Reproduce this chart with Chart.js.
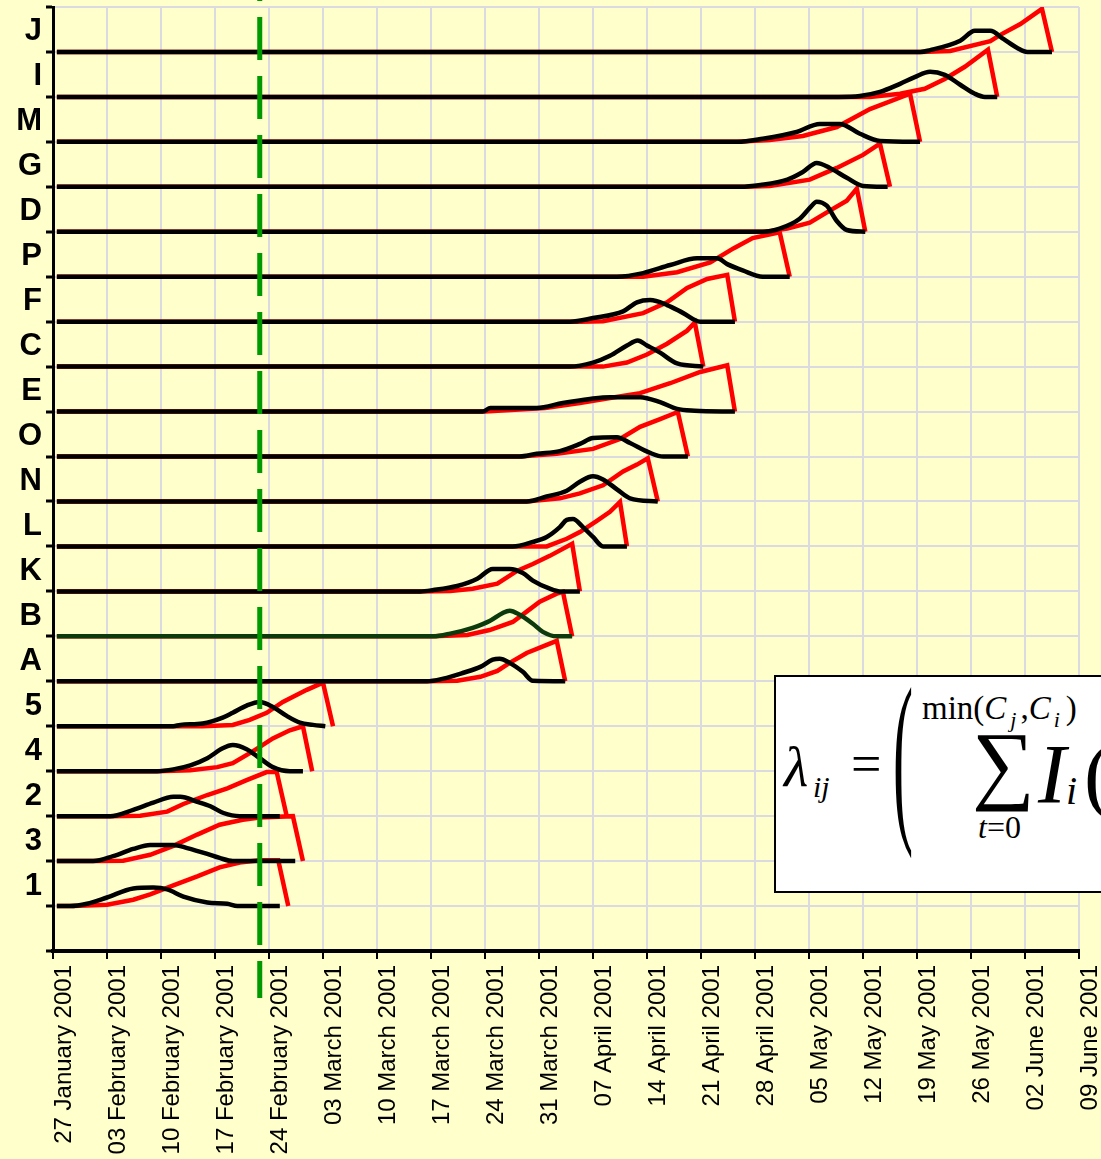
<!DOCTYPE html>
<html>
<head>
<meta charset="utf-8">
<script src="https://cdn.jsdelivr.net/npm/chart.js@4.4.1/dist/chart.umd.min.js"></script>
<style>
html, body { margin: 0; padding: 0; background: #ffffcc; overflow: hidden; }
#wrap { position: relative; width: 1101px; height: 1159px; overflow: hidden; background: #ffffcc; }
#chart { position: absolute; left: 0; top: 0; }
#formula { position: absolute; left: 774px; top: 675px; width: 360px; height: 214px;
  border: 2px solid #000; background: #fff; font-family: "Liberation Serif", "Times New Roman", serif; color: #000; }
#formula span { position: absolute; line-height: 1; white-space: nowrap; }
</style>
</head>
<body>
<div id="wrap">
<canvas id="chart" width="1101" height="1159"></canvas>
<div id="formula">
  <span style="left:8px; top:62px; font-size:56px; font-style:italic;">λ</span>
  <span style="left:37px; top:95px; font-size:30px; font-style:italic;">ij</span>
  <span style="left:75px; top:60px; font-size:54px;">=</span>
  <span style="left:117px; top:-16px; font-size:188px; transform:scaleX(0.32); transform-origin:0 0;">(</span>
  <span style="left:146px; top:15px; font-size:33px;">min(<i>C</i><i style="font-size:22px; position:relative; top:8px; margin-left:4px;">j</i><span style="position:static; margin-left:4px;">,</span><i>C</i><i style="font-size:22px; position:relative; top:8px; margin-left:3px;">i</i><span style="position:static; margin-left:6px;">)</span></span>
  <span style="left:196px; top:43px; font-size:88px;">∑</span>
  <span style="left:262px; top:56px; font-size:84px; font-style:italic;">I</span>
  <span style="left:290px; top:94px; font-size:40px; font-style:italic;">i</span>
  <span style="left:308px; top:56px; font-size:84px;">(</span>
  <span style="left:202px; top:134px; font-size:32px;"><i>t</i>=0</span>
</div>
</div>
<script>
// Row labels from bottom (row 1) to top (row 20)
const rowLabels = ['1', '3', '2', '4', '5', 'A', 'B', 'K', 'L', 'N', 'O', 'E', 'C', 'F', 'P', 'D', 'G', 'M', 'I', 'J'];

// Each curve: [days after 27 January 2001, height above the row's baseline]
// black = incidence curve, red = cumulative curve
const row_1_inc = [[0.5,0],[2.2,0],[4.4,0.05],[7,0.19],[10.4,0.39],[13,0.41],[14.8,0.37],[16.9,0.21],[20,0.08],[22.6,0.05],[23.9,0],[29.4,0]];
const row_1_cum = [[0.5,0],[2.6,0],[7,0.03],[10.4,0.14],[12.6,0.26],[15.6,0.46],[18.7,0.66],[21.6,0.86],[24.2,0.97],[26.8,1.02],[29.2,1.02],[30.5,0]];
const row_3_inc = [[0.5,0],[5.2,0],[7.8,0.11],[10.4,0.27],[12.6,0.36],[15.6,0.36],[17.4,0.29],[20,0.16],[21.6,0.07],[23.3,0],[31.4,0]];
const row_3_cum = [[0.5,0],[5.7,0],[9.1,0.01],[12.6,0.14],[15.6,0.34],[18.7,0.59],[21.6,0.81],[24.6,0.92],[26.8,0.97],[31.1,1.0],[32.4,0]];
const row_2_inc = [[0.5,0],[7.4,0],[10.4,0.14],[13,0.3],[15.6,0.43],[16.5,0.43],[18.7,0.32],[20.4,0.22],[22.1,0.07],[24.2,0],[29.4,0]];
const row_2_cum = [[0.5,0],[7.4,0],[11.3,0.01],[14.8,0.1],[16.9,0.27],[20,0.47],[22.6,0.62],[25.1,0.8],[27.7,0.98],[29,0.98],[30.3,0]];
const row_4_inc = [[0.5,0],[13.5,0],[15.6,0.04],[17.8,0.13],[20,0.29],[22,0.51],[23.3,0.58],[25.1,0.49],[26.8,0.29],[28.5,0.09],[30.7,0],[32.4,0]];
const row_4_cum = [[0.5,0],[13.5,0],[17.8,0.02],[21.3,0.09],[23.3,0.18],[25.9,0.44],[28.5,0.73],[30.7,0.91],[32.4,1],[33.6,0]];
const row_5_inc = [[0.5,0],[15.6,0],[16.5,0.03],[19.4,0.06],[22,0.19],[23.3,0.3],[25.1,0.46],[26.8,0.54],[28.5,0.43],[30.3,0.23],[32,0.08],[33.7,0.03],[35.3,0]];
const row_5_cum = [[0.5,0],[19.4,0],[23.3,0.03],[25.5,0.14],[27.7,0.3],[29.8,0.54],[32.9,0.81],[35,0.97],[36.3,0]];
const row_A_inc = [[0.5,0],[48.5,0],[50.6,0.06],[53.2,0.19],[55.4,0.32],[57,0.48],[57.9,0.5],[59.2,0.41],[60.9,0.21],[62.2,0.01],[66.4,0]];
const row_A_cum = [[0.5,0],[48.5,0],[52.4,0.01],[55.4,0.1],[57.6,0.23],[59.2,0.41],[61.4,0.63],[64,0.81],[65.3,0.9],[66.4,0]];
const row_B_inc = [[0.5,0],[49.3,0],[51.5,0.06],[54.4,0.19],[56.6,0.34],[58.3,0.52],[59.2,0.57],[60.5,0.48],[62.2,0.28],[63.5,0.1],[65.3,0],[67.3,0]];
const row_B_cum = [[0.5,0],[49.3,0],[53.7,0.03],[56.6,0.14],[59.6,0.32],[61.4,0.55],[63.1,0.77],[65.3,0.95],[66.1,0.99],[67.3,0]];
const row_K_inc = [[0.5,0],[47.6,0],[49.3,0.03],[52.4,0.12],[55,0.28],[57,0.5],[59.2,0.5],[60.9,0.41],[62.2,0.24],[64.4,0.06],[65.7,0],[68.3,0]];
const row_K_cum = [[0.5,0],[47.6,0],[51.5,0.01],[54.4,0.06],[57.6,0.17],[60.2,0.46],[62.2,0.61],[64.4,0.79],[67.3,1.06],[68.3,0]];
const row_L_inc = [[0.5,0],[59.6,0],[62.2,0.1],[64,0.21],[65.7,0.43],[66.6,0.59],[67.4,0.61],[68.7,0.43],[70,0.21],[71.3,0],[74.4,0]];
const row_L_cum = [[0.5,0],[64,0],[66.6,0.17],[68.3,0.32],[70.5,0.57],[72.2,0.77],[73.5,0.99],[74.4,0]];
const row_N_inc = [[0.5,0],[61.4,0],[64,0.11],[66.6,0.24],[68.3,0.44],[70,0.56],[71.3,0.49],[73.1,0.27],[74.8,0.07],[78.4,0]];
const row_N_cum = [[0.5,0],[61.4,0],[65.7,0.07],[68.3,0.18],[71.3,0.36],[73.9,0.67],[75.7,0.82],[77.1,0.96],[78.4,0]];
const row_O_inc = [[0.5,0],[60.5,0],[62.7,0.06],[65.7,0.12],[68.3,0.28],[70,0.41],[73.1,0.43],[74.8,0.3],[77.4,0.08],[79.1,0],[82.3,0]];
const row_O_cum = [[0.5,0],[60.5,0],[65.3,0.06],[70,0.17],[73.5,0.39],[76.1,0.66],[78.7,0.83],[81,0.99],[82.3,0]];
const row_E_inc = [[0.5,0],[55.7,0],[56.7,0.08],[62.7,0.08],[66.1,0.19],[69.6,0.28],[72.2,0.32],[76.1,0.32],[78.7,0.21],[80.9,0.06],[83.2,0.02],[88.4,0]];
const row_E_cum = [[0.5,0],[56,0],[63.8,0.08],[68.3,0.19],[72.2,0.3],[76.1,0.41],[80,0.63],[83.9,0.88],[87.4,1.03],[88.4,0]];
const row_C_inc = [[0.5,0],[67,0],[70,0.09],[72.2,0.24],[74.4,0.47],[75.8,0.58],[77,0.47],[78.7,0.31],[80.9,0.07],[84.3,0]];
const row_C_cum = [[0.5,0],[71.3,0],[74.4,0.09],[77,0.27],[79.6,0.51],[82.2,0.8],[83.2,0.98],[84.3,0]];
const row_F_inc = [[0.5,0],[67,0],[70,0.08],[73.9,0.23],[75.7,0.43],[77.4,0.48],[79.6,0.37],[81.7,0.19],[83.9,0],[88.4,0]];
const row_F_cum = [[0.5,0],[68.3,0],[71.3,0.01],[76.5,0.19],[79.6,0.43],[82.2,0.75],[84.8,0.95],[87.4,1.04],[88.4,0]];
const row_P_inc = [[0.5,0],[73.1,0],[76.5,0.08],[80,0.26],[83.5,0.41],[86.1,0.41],[87.4,0.28],[89.4,0.14],[92,0],[95.5,0]];
const row_P_cum = [[0.5,0],[76.5,0],[80.9,0.1],[85.2,0.32],[88.2,0.63],[90.7,0.86],[94.2,0.99],[95.5,0]];
const row_D_inc = [[0.5,0],[92,0],[94.2,0.07],[96.8,0.29],[98.1,0.53],[99,0.67],[100.3,0.58],[101.6,0.24],[102.9,0.04],[105.3,0]];
const row_D_cum = [[0.5,0],[92.3,0],[95.2,0.07],[98.1,0.2],[100.7,0.47],[102.9,0.69],[104.2,0.96],[105.3,0]];
const row_G_inc = [[0.5,0],[89.1,0],[91.7,0.04],[95.2,0.16],[97.2,0.33],[99,0.53],[100.7,0.42],[102.9,0.2],[105,0.02],[108.2,0]];
const row_G_cum = [[0.5,0],[89.7,0],[92.9,0.02],[98.1,0.16],[101.6,0.42],[105,0.71],[107.2,0.96],[108.5,0]];
const row_M_inc = [[0.5,0],[88.7,0],[92,0.07],[96.4,0.22],[99.4,0.4],[102,0.4],[104.6,0.18],[107.2,0.02],[112.4,0]];
const row_M_cum = [[0.5,0],[88.7,0],[92.9,0.04],[97.2,0.13],[101.6,0.33],[105.9,0.73],[111.1,1.07],[112.4,0]];
const row_I_inc = [[0.5,0],[101.8,0],[104.6,0.02],[107.2,0.11],[109.8,0.29],[111.7,0.44],[113.7,0.56],[115.6,0.49],[117.6,0.27],[119.5,0.07],[120.8,0],[122.4,0]];
const row_I_cum = [[0.5,0],[105.9,0],[109.8,0.07],[113,0.18],[115.6,0.4],[118.2,0.67],[121.2,1.05],[122.4,0]];
const row_J_inc = [[0.5,0],[112.4,0],[113.7,0.04],[117.6,0.25],[119.5,0.47],[121.5,0.47],[123.2,0.29],[125,0.09],[126.3,0],[129.5,0]];
const row_J_cum = [[0.5,0],[112.4,0],[116.3,0.02],[121.5,0.24],[122.8,0.38],[125.4,0.62],[128.2,0.96],[129.5,0]];

// rows in drawing order, bottom to top
const rows = [
  [row_1_inc, row_1_cum], [row_3_inc, row_3_cum], [row_2_inc, row_2_cum], [row_4_inc, row_4_cum],
  [row_5_inc, row_5_cum], [row_A_inc, row_A_cum], [row_B_inc, row_B_cum], [row_K_inc, row_K_cum],
  [row_L_inc, row_L_cum], [row_N_inc, row_N_cum], [row_O_inc, row_O_cum], [row_E_inc, row_E_cum],
  [row_C_inc, row_C_cum], [row_F_inc, row_F_cum], [row_P_inc, row_P_cum], [row_D_inc, row_D_cum],
  [row_G_inc, row_G_cum], [row_M_inc, row_M_cum], [row_I_inc, row_I_cum], [row_J_inc, row_J_cum]
];

const cutoffDay = 26.8;   // green dashed line (about 23 Feb 2001)
const totalDays = 133;    // 27 Jan -> 09 Jun 2001

const months = ['January','February','March','April','May','June','July'];
function fmtDate(d) {
    const dt = new Date(Date.UTC(2001, 0, 27 + d));
    const day = String(dt.getUTCDate()).padStart(2, '0');
    return day + ' ' + months[dt.getUTCMonth()] + ' 2001';
}

const datasets = [];
rows.forEach((r, i) => {
    const base = i + 1;
    const incColor = rowLabels[i] == 'B' ? '#0c3a0c' : '#000000';
    datasets.push({
        data: r[0].map(p => ({x: p[0], y: base + p[1]})),
        borderColor: incColor, borderWidth: 4.5, order: 0,
        pointRadius: 0, cubicInterpolationMode: 'monotone', fill: false
    });
    datasets.push({
        data: r[1].map(p => ({x: p[0], y: base + p[1]})),
        borderColor: '#ff0000', borderWidth: 4.5, order: 1,
        pointRadius: 0, tension: 0, fill: false
    });
});

const cutoffLine = {
    id: 'cutoffLine',
    afterDatasetsDraw(chart) {
        const ctx = chart.ctx;
        const x = chart.scales.x.getPixelForValue(cutoffDay);
        ctx.save();
        ctx.strokeStyle = '#009900';
        ctx.lineWidth = 5;
        ctx.setLineDash([43, 16]);
        ctx.beginPath();
        ctx.moveTo(x, -42);
        ctx.lineTo(x, chart.chartArea.bottom + 47);
        ctx.stroke();
        ctx.restore();
    }
};

const gridColor = '#dadae0';

new Chart(document.getElementById('chart'), {
    type: 'line',
    data: { datasets: datasets },
    options: {
        responsive: false,
        animation: false,
        devicePixelRatio: 1,
        layout: { padding: { top: 7, right: 22, left: 0, bottom: 0 } },
        plugins: { legend: { display: false }, tooltip: { enabled: false } },
        scales: {
            x: {
                type: 'linear', min: 0, max: totalDays,
                afterBuildTicks: s => {
                    s.ticks = [];
                    for (let d = 0; d <= totalDays; d += 7) s.ticks.push({value: d});
                },
                afterFit: s => { s.height = 208; s.paddingLeft = 0; s.paddingRight = 0; },
                ticks: {
                    callback: v => fmtDate(v),
                    minRotation: 90, maxRotation: 90, autoSkip: false,
                    font: { family: '"Liberation Sans", Arial, sans-serif', size: 24 },
                    color: '#000', padding: 6, labelOffset: 11
                },
                grid: { color: gridColor, lineWidth: 2, tickLength: 8, tickColor: '#000', tickWidth: 2 },
                border: { color: '#000', width: 4 }
            },
            y: {
                type: 'linear', min: 0, max: 21,
                afterBuildTicks: s => {
                    s.ticks = [];
                    for (let i = 0; i <= 21; i++) s.ticks.push({value: i});
                },
                afterFit: s => { s.width = 53; s.paddingTop = 0; s.paddingBottom = 0; },
                ticks: {
                    callback: v => rowLabels[v - 1] || '',
                    font: { family: '"Liberation Sans", Arial, sans-serif', size: 31, weight: 'bold' },
                    color: '#000', padding: 4, labelOffset: -20
                },
                grid: { color: gridColor, lineWidth: 2, tickLength: 7, tickColor: '#000', tickWidth: 3 },
                border: { color: '#000', width: 3 }
            }
        }
    },
    plugins: [cutoffLine]
});
</script>
</body>
</html>
